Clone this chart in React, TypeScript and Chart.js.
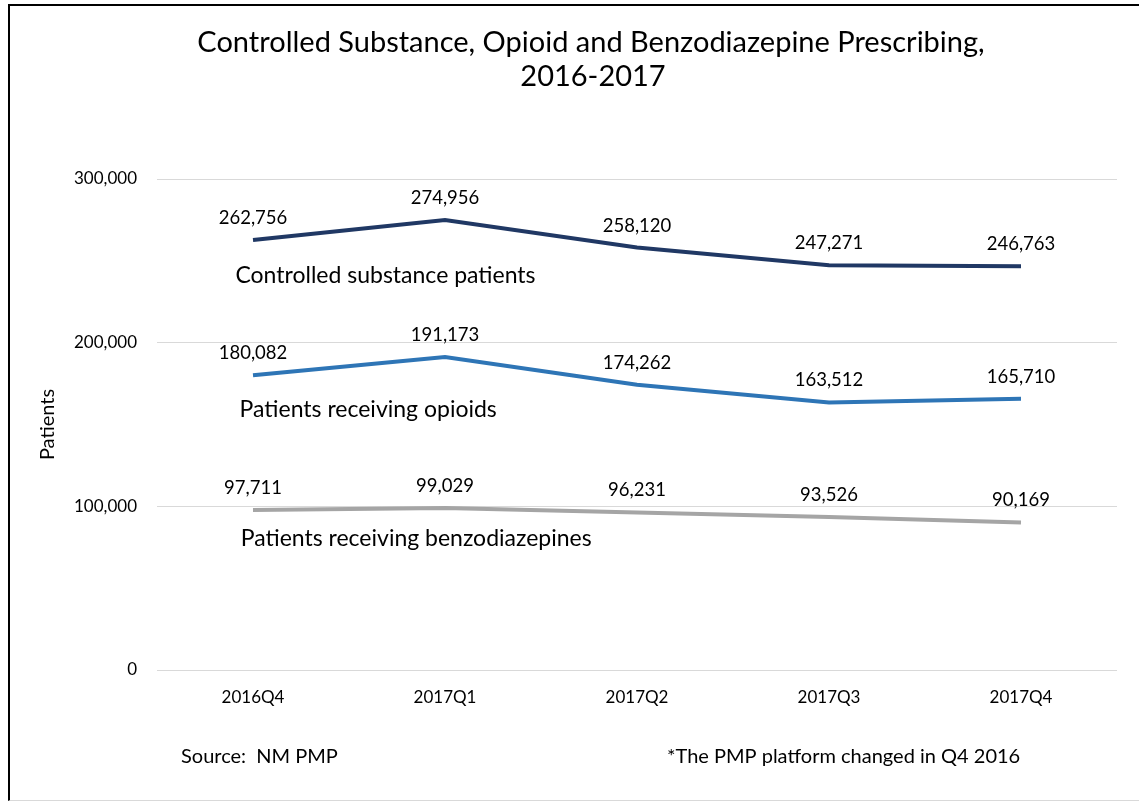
import React, { useEffect, useRef } from "react";
import { Chart, registerables } from "chart.js";

Chart.register(...registerables);

const categories = ["2016Q4", "2017Q1", "2017Q2", "2017Q3", "2017Q4"];
const controlled = [262756, 274956, 258120, 247271, 246763];
const opioids = [180082, 191173, 174262, 163512, 165710];
const benzos = [97711, 99029, 96231, 93526, 90169];
const seriesNames = [
  "Controlled substance patients",
  "Patients receiving opioids",
  "Patients receiving benzodiazepines",
];
const titleLines = [
  "Controlled Substance, Opioid and Benzodiazepine Prescribing,",
  "2016-2017",
];
const yTicks = [0, 100000, 200000, 300000];
const sourceNote = "Source:  NM PMP";
const platformNote = "*The PMP platform changed in Q4 2016";

const FONT = "Lato, 'Open Sans', sans-serif";
const colors = ["#203864", "#2E75B6", "#A5A5A5"];
// series-name annotation anchors in (category index, value) space
const nameAnchors = [
  { x: 0.69, y: 240700 },
  { x: 0.6, y: 158900 },
  { x: 0.85, y: 80600 },
];

const fmt = (v: number) => v.toLocaleString("en-US");

const decorPlugin = {
  id: "decor",
  afterDatasetsDraw(chart: any) {
    const { ctx, scales } = chart;
    const xs = scales.x;
    const ys = scales.y;
    ctx.save();
    ctx.fillStyle = "#000";
    ctx.textAlign = "center";
    ctx.textBaseline = "middle";
    // data labels
    ctx.font = `18.5px ${FONT}`;
    chart.data.datasets.forEach((ds: any, di: number) => {
      const meta = chart.getDatasetMeta(di);
      meta.data.forEach((pt: any, i: number) => {
        ctx.fillText(fmt(ds.data[i]), pt.x, pt.y - 22);
      });
    });
    // series names
    ctx.font = `23px ${FONT}`;
    nameAnchors.forEach((a, i) => {
      ctx.fillText(seriesNames[i], xs.getPixelForValue(a.x), ys.getPixelForValue(a.y));
    });
    // title
    ctx.font = `29px ${FONT}`;
    ctx.fillText(titleLines[0], 581, 37);
    ctx.fillText(titleLines[1], 583, 71);
    // footer
    ctx.font = `20px ${FONT}`;
    ctx.textAlign = "left";
    ctx.fillText(sourceNote, 171, 751);
    ctx.fillText(platformNote, 657, 751);
    ctx.restore();
  },
};

export default function App() {
  const ref = useRef<HTMLCanvasElement>(null);
  useEffect(() => {
    if (!ref.current) return;
    const chart = new Chart(ref.current, {
      type: "line",
      data: {
        labels: categories,
        datasets: [controlled, opioids, benzos].map((d, i) => ({
          label: seriesNames[i],
          data: d,
          borderColor: colors[i],
          backgroundColor: colors[i],
          borderWidth: 4,
          pointRadius: 0,
          tension: 0,
        })),
      },
      options: {
        animation: false,
        responsive: false,
        layout: { padding: { top: 173, bottom: 70, right: 22, left: 0 } },
        plugins: { legend: { display: false }, tooltip: { enabled: false }, title: { display: false } },
        scales: {
          x: {
            offset: true,
            grid: { display: false, drawTicks: false },
            border: { display: false },
            ticks: { color: "#000", font: { family: FONT, size: 17 }, padding: 17 },
            afterFit: (s: any) => {
              s.height = 60;
            },
          },
          y: {
            min: 0,
            max: 300000,
            afterBuildTicks: (s: any) => {
              s.ticks = yTicks.map((v) => ({ value: v }));
            },
            grid: { color: "#D9D9D9", lineWidth: 1, drawTicks: false },
            border: { display: false },
            ticks: {
              color: "#000",
              font: { family: FONT, size: 17 },
              padding: 20,
              callback: (v: any) => fmt(Number(v)),
            },
            title: {
              display: true,
              text: "Patients",
              color: "#000",
              font: { family: FONT, size: 20 },
              padding: { top: 26, bottom: 0 },
            },
            afterFit: (s: any) => {
              s.width = 147;
            },
          },
        },
      },
      plugins: [decorPlugin],
    });
    return () => chart.destroy();
  }, []);
  return (
    <div
      style={{
        position: "absolute",
        left: 8,
        top: 4,
        width: 1131,
        height: 797,
        boxSizing: "border-box",
        borderLeft: "2px solid #000",
        borderTop: "2px solid #000",
        borderBottom: "1px solid #D9D9D9",
        background: "#fff",
        overflow: "hidden",
      }}
    >
      <canvas ref={ref} width={1129} height={794} style={{ display: "block" }} />
    </div>
  );
}
